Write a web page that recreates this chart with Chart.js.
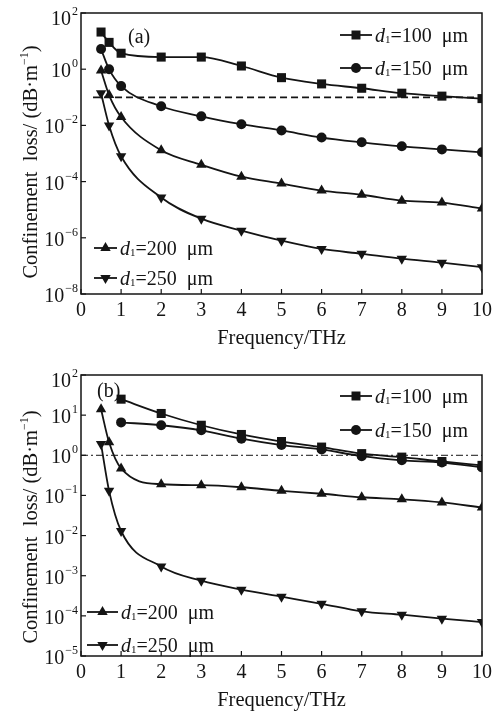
<!DOCTYPE html>
<html>
<head>
<meta charset="utf-8">
<script src="https://cdn.jsdelivr.net/npm/chart.js@4.4.0/dist/chart.umd.min.js"></script>
<style>
  body { margin: 0; background: #fff; }
  .wrap { position: relative; width: 497px; height: 713px; }
  canvas { position: absolute; left: 0; }
</style>
</head>
<body>
<div class="wrap">
  <canvas id="chartA" width="497" height="356" style="top:0"></canvas>
  <canvas id="chartB" width="497" height="357" style="top:356px"></canvas>
</div>
<script>
// frequency (THz) of the computed points
var freqA = [0.5, 0.7, 1, 2, 3, 4, 5, 6, 7, 8, 9, 10];
var freqB = [1, 2, 3, 4, 5, 6, 7, 8, 9, 10];
var freqB2 = [0.5, 0.7, 1, 2, 3, 4, 5, 6, 7, 8, 9, 10];

// (a) confinement loss, dB/m
var lossA100 = [21, 9, 3.7, 2.7, 2.7, 1.3, 0.5, 0.3, 0.21, 0.14, 0.11, 0.09];
var lossA150 = [5.2, 1.0, 0.25, 0.048, 0.021, 0.011, 0.0066, 0.0037, 0.0025, 0.0018, 0.0014, 0.0011];
var lossA200 = [0.9, 0.12, 0.02, 0.0013, 0.0004, 0.00015, 8.5e-5, 4.8e-5, 3.4e-5, 2.1e-5, 1.8e-5, 1.1e-5];
var lossA250 = [0.14, 0.01, 8e-4, 2.7e-5, 4.8e-6, 1.8e-6, 7.9e-7, 4e-7, 2.7e-7, 1.8e-7, 1.3e-7, 9e-8];

// (b) confinement loss, dB/m
var lossB100 = [25, 11, 5.6, 3.3, 2.2, 1.6, 1.1, 0.9, 0.7, 0.56];
var lossB150 = [6.6, 5.6, 4.2, 2.6, 1.8, 1.4, 0.95, 0.75, 0.66, 0.5];
var lossB200 = [14, 2.1, 0.47, 0.19, 0.18, 0.16, 0.13, 0.11, 0.09, 0.08, 0.067, 0.05];
var lossB250 = [1.9, 0.13, 0.013, 0.0017, 7.5e-4, 4.5e-4, 3e-4, 2e-4, 1.3e-4, 1.07e-4, 8.5e-5, 7e-5];

// reference level lines
var refA = 0.1;
var refB = 1;

// axis ticks
var xTicks = [0, 1, 2, 3, 4, 5, 6, 7, 8, 9, 10];
var yExpA = [2, 0, -2, -4, -6, -8];
var yExpB = [2, 1, 0, -1, -2, -3, -4, -5];
var diameters = ["100", "150", "200", "250"];

var FONT = '"Liberation Serif", "DejaVu Serif", serif';
var INK = "#141414";

function pts(xs, ys) {
  return xs.map(function (x, i) { return { x: x, y: ys[i] }; });
}

function series(data, style, radius) {
  return {
    data: data,
    borderColor: INK,
    backgroundColor: INK,
    borderWidth: 1.8,
    pointStyle: style === "down" ? "triangle" : style,
    pointRotation: style === "down" ? 180 : 0,
    pointRadius: radius,
    pointBackgroundColor: INK,
    pointBorderColor: INK,
    pointBorderWidth: 0,
    cubicInterpolationMode: "monotone",
    fill: false
  };
}

function refLine(x0, y, dash, width) {
  return {
    data: [{ x: x0, y: y }, { x: 10, y: y }],
    borderColor: INK,
    borderWidth: width,
    borderDash: dash,
    pointRadius: 0,
    fill: false
  };
}

function marker(ctx, style, x, y) {
  ctx.beginPath();
  if (style === "rect") {
    ctx.rect(x - 4.5, y - 4.5, 9, 9);
  } else if (style === "circle") {
    ctx.arc(x, y, 5, 0, Math.PI * 2);
  } else if (style === "triangle") {
    ctx.moveTo(x, y - 6);
    ctx.lineTo(x + 5.2, y + 3);
    ctx.lineTo(x - 5.2, y + 3);
  } else {
    ctx.moveTo(x, y + 6);
    ctx.lineTo(x + 5.2, y - 3);
    ctx.lineTo(x - 5.2, y - 3);
  }
  ctx.closePath();
  ctx.fill();
}

function legendItem(ctx, x0, x1, y, style, label) {
  ctx.strokeStyle = INK;
  ctx.fillStyle = INK;
  ctx.lineWidth = 1.8;
  ctx.beginPath();
  ctx.moveTo(x0, y);
  ctx.lineTo(x1, y);
  ctx.stroke();
  marker(ctx, style, (x0 + x1) / 2, y);
  var x = x1 + 3;
  ctx.textAlign = "left";
  ctx.textBaseline = "alphabetic";
  ctx.font = "italic 20px " + FONT;
  ctx.fillText("d", x, y + 7);
  x += ctx.measureText("d").width;
  ctx.font = "11px " + FONT;
  ctx.fillText("1", x, y + 8);
  x += ctx.measureText("1").width;
  ctx.font = "20px " + FONT;
  ctx.fillText("=" + label + "  \u03bcm", x, y + 7);
}

function yTitle(ctx, cx, cy) {
  var main = "Confinement  loss/ (dB\u00b7m";
  var sup = "\u22121";
  ctx.save();
  ctx.translate(cx, cy);
  ctx.rotate(-Math.PI / 2);
  ctx.fillStyle = INK;
  ctx.textBaseline = "alphabetic";
  ctx.textAlign = "left";
  ctx.font = "20.5px " + FONT;
  var w1 = ctx.measureText(main).width;
  var w3 = ctx.measureText(")").width;
  ctx.font = "12px " + FONT;
  var w2 = ctx.measureText(sup).width;
  var x = -(w1 + w2 + w3) / 2;
  ctx.font = "20.5px " + FONT;
  ctx.fillText(main, x, 0);
  ctx.font = "12px " + FONT;
  ctx.fillText(sup, x + w1, -9);
  ctx.font = "20.5px " + FONT;
  ctx.fillText(")", x + w1 + w2, 0);
  ctx.restore();
}

// frame, inward ticks, power-of-ten labels, titles and legend
var decorations = {
  id: "decorations",
  afterDraw: function (chart) {
    var o = chart.options.plugins.decorations;
    var ctx = chart.ctx;
    var a = chart.chartArea;
    var xs = chart.scales.x;
    var ys = chart.scales.y;
    ctx.save();
    ctx.strokeStyle = INK;
    ctx.fillStyle = INK;
    ctx.lineWidth = 1.5;
    ctx.strokeRect(a.left, a.top, a.right - a.left, a.bottom - a.top);

    ctx.lineWidth = 1.2;
    xTicks.forEach(function (v) {
      var px = xs.getPixelForValue(v);
      ctx.beginPath();
      ctx.moveTo(px, a.bottom);
      ctx.lineTo(px, a.bottom - 5);
      ctx.stroke();
    });

    o.yExp.forEach(function (e, i) {
      var py = ys.getPixelForValue(Math.pow(10, e));
      ctx.beginPath();
      ctx.moveTo(a.left, py);
      ctx.lineTo(a.left + 5, py);
      ctx.stroke();
      var exp = e < 0 ? "\u2212" + (-e) : String(e);
      var ly = i === 0 ? py + 5 : py + 1;
      ctx.textBaseline = "alphabetic";
      ctx.textAlign = "right";
      ctx.font = "12px " + FONT;
      var ew = ctx.measureText(exp).width;
      ctx.fillText(exp, a.left - 3, ly - 3);
      ctx.font = "20px " + FONT;
      ctx.fillText("10", a.left - 4 - ew, ly + 7);
    });

    yTitle(ctx, 37, o.titleY);

    ctx.font = "20.5px " + FONT;
    ctx.textAlign = "center";
    ctx.textBaseline = "middle";
    ctx.fillText("Frequency/THz", (a.left + a.right) / 2, a.bottom + 45);

    ctx.font = "20px " + FONT;
    ctx.textAlign = "left";
    ctx.fillText(o.tag, o.tagX, o.tagY);

    var styles = ["rect", "circle", "triangle", "down"];
    o.legend.forEach(function (p, i) {
      legendItem(ctx, p[0], p[1], p[2], styles[i], diameters[i]);
    });
    ctx.restore();
  }
};

function makeChart(id, datasets, yMin, yExp, padTop, xHeight, extra) {
  return new Chart(document.getElementById(id), {
    type: "line",
    data: { datasets: datasets },
    plugins: [decorations],
    options: {
      responsive: false,
      animation: false,
      events: [],
      layout: { padding: { top: padTop, right: 14, left: 0, bottom: 0 } },
      plugins: {
        legend: { display: false },
        tooltip: { enabled: false },
        decorations: Object.assign({ yExp: yExp }, extra)
      },
      scales: {
        x: {
          type: "linear",
          min: 0,
          max: 10,
          afterBuildTicks: function (s) {
            s.ticks = xTicks.map(function (v) { return { value: v }; });
          },
          afterFit: function (s) { s.height = xHeight; },
          ticks: { color: INK, font: { family: FONT, size: 20 }, padding: 5, maxRotation: 0 },
          grid: { display: false, drawTicks: false },
          border: { display: false }
        },
        y: {
          type: "logarithmic",
          min: yMin,
          max: 100,
          afterFit: function (s) { s.width = 81; },
          ticks: { display: false },
          grid: { display: false, drawTicks: false },
          border: { display: false }
        }
      }
    }
  });
}

makeChart("chartA", [
  refLine(0.3, refA, [7, 4], 1.8),
  series(pts(freqA, lossA100), "rect", 6.4),
  series(pts(freqA, lossA150), "circle", 5),
  series(pts(freqA, lossA200), "triangle", 6),
  series(pts(freqA, lossA250), "down", 6)
], 1e-8, yExpA, 13, 62, {
  titleY: 162,
  tag: "(a)", tagX: 128, tagY: 38,
  legend: [[340, 372, 35], [340, 372, 68], [94, 117, 248], [94, 117, 278]]
});

makeChart("chartB", [
  refLine(0, refB, [7, 3, 2, 3], 1),
  series(pts(freqB, lossB100), "rect", 6.4),
  series(pts(freqB, lossB150), "circle", 5),
  series(pts(freqB2, lossB200), "triangle", 6),
  series(pts(freqB2, lossB250), "down", 6)
], 1e-5, yExpB, 19, 57, {
  titleY: 171,
  tag: "(b)", tagX: 97, tagY: 36,
  legend: [[340, 372, 40], [340, 372, 74], [87, 118, 256], [87, 118, 289]]
});
</script>
</body>
</html>
